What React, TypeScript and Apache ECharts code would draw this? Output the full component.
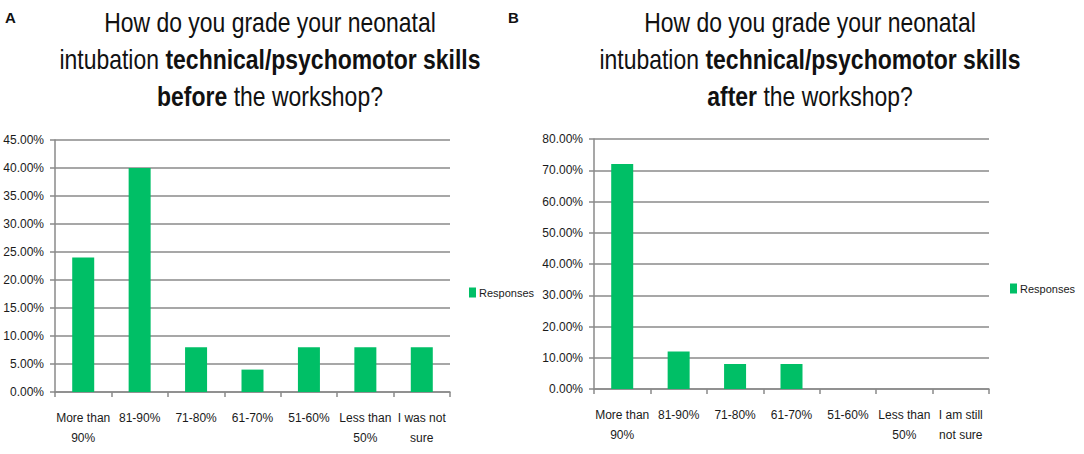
import React, { useEffect, useRef } from "react";
import * as echarts from "echarts";

const categoriesBefore = ["More than\n90%", "81-90%", "71-80%", "61-70%", "51-60%", "Less than\n50%", "I was not\nsure"];
const valuesBefore = [24, 40, 8, 4, 8, 8, 8];
const categoriesAfter = ["More than\n90%", "81-90%", "71-80%", "61-70%", "51-60%", "Less than\n50%", "I am still\nnot sure"];
const valuesAfter = [72, 12, 8, 8, 0, 0, 0];
const seriesName = "Responses";

const SANS = "'Liberation Sans', Arial, sans-serif";
const GREEN = "#00bf66";
const GRAY = "#8a8a8a";
const TXT = "#1a1a1a";

function titleText(cx: number, which: string) {
  return {
    type: "text",
    x: cx,
    y: 4,
    scaleX: 0.82,
    scaleY: 1,
    style: {
      text: "How do you grade your neonatal\nintubation {b|technical/psychomotor skills}\n{b|" + which + "} the workshop?",
      align: "center",
      verticalAlign: "top",
      font: "28px " + SANS,
      lineHeight: 37,
      fill: "#111",
      rich: {
        b: { fontWeight: "bold", fontSize: 28, fontFamily: SANS, lineHeight: 37, fill: "#111" },
      },
    },
  };
}

export default function App() {
  const ref = useRef<HTMLDivElement>(null);
  useEffect(() => {
    if (!ref.current) return;
    const chart = echarts.init(ref.current, undefined, { renderer: "svg" });
    const xAxisBase = (data: string[], gi: number) => ({
      type: "category",
      gridIndex: gi,
      data,
      axisLine: { lineStyle: { color: GRAY, width: 1.5 } },
      axisTick: { show: true, length: 5, alignWithLabel: false, lineStyle: { color: GRAY, width: 1.5 } },
      axisLabel: { interval: 0, margin: 16, fontSize: 12, lineHeight: 20, fontFamily: SANS, color: TXT },
    });
    const yAxisBase = (gi: number, max: number, interval: number) => ({
      type: "value",
      gridIndex: gi,
      min: 0,
      max,
      interval,
      axisLine: { show: true, lineStyle: { color: GRAY, width: 1.5 } },
      axisTick: { show: true, length: 5, lineStyle: { color: GRAY, width: 1.5 } },
      splitLine: { show: true, lineStyle: { color: GRAY, width: 1.5 } },
      axisLabel: {
        margin: 11,
        fontSize: 12,
        fontFamily: SANS,
        color: TXT,
        formatter: (v: number) => v.toFixed(2) + "%",
      },
    });
    const legendBase = (left: number, top: number) => ({
      left,
      top,
      padding: 0,
      itemWidth: 7,
      itemHeight: 10,
      itemGap: 10,
      icon: "rect",
      data: [seriesName],
      selectedMode: false,
      textStyle: { fontSize: 11, fontFamily: SANS, color: TXT, padding: [0, 0, 0, -2] },
    });
    chart.setOption({
      animation: false,
      backgroundColor: "#fff",
      grid: [
        { left: 55, top: 140, width: 395, height: 252 },
        { left: 594, top: 139, width: 395, height: 250 },
      ],
      xAxis: [xAxisBase(categoriesBefore, 0), xAxisBase(categoriesAfter, 1)],
      yAxis: [yAxisBase(0, 45, 5), yAxisBase(1, 80, 10)],
      legend: [legendBase(469, 287), legendBase(1010, 283)],
      series: [
        { type: "bar", name: seriesName, xAxisIndex: 0, yAxisIndex: 0, data: valuesBefore, barWidth: 22, itemStyle: { color: GREEN } },
        { type: "bar", name: seriesName, xAxisIndex: 1, yAxisIndex: 1, data: valuesAfter, barWidth: 22, itemStyle: { color: GREEN } },
      ],
      graphic: [
        titleText(270, "before"),
        titleText(810, "after"),
        { type: "text", x: 5, y: 10, style: { text: "A", font: "bold 15px " + SANS, fill: "#111" } },
        { type: "text", x: 508, y: 10, style: { text: "B", font: "bold 15px " + SANS, fill: "#111" } },
      ],
    });
    return () => chart.dispose();
  }, []);
  return <div ref={ref} style={{ position: "fixed", left: 0, top: 0, width: 1084, height: 454 }} />;
}
